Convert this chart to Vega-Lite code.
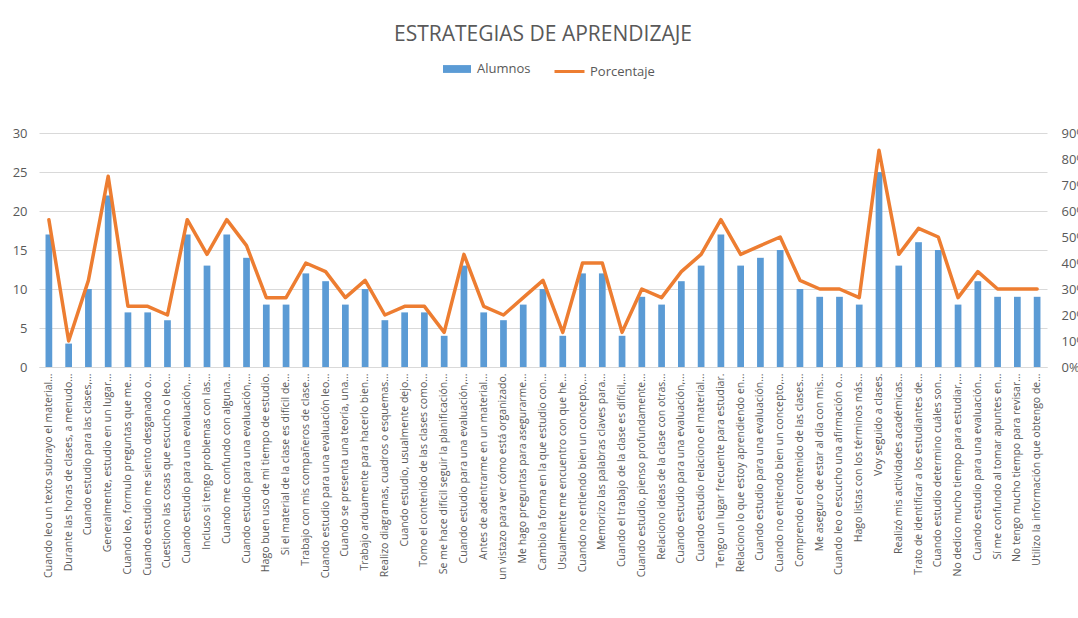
{
  "$schema": "https://vega.github.io/schema/vega-lite/v6.json",
  "autosize": "none",
  "width": 1008,
  "height": 234,
  "padding": {"left": 39, "top": 133, "right": 31, "bottom": 251},
  "background": "white",
  "title": {"text": "ESTRATEGIAS DE APRENDIZAJE", "font": "Open Sans", "fontSize": 21, "fontWeight": "normal", "color": "#595959", "anchor": "middle", "baseline": "alphabetic", "offset": -7},
  "config": {"view": {"stroke": null}},
  "data": {"values": [
    {"id": "01|Cuando leo un texto subrayo el material...", "alumnos": 17, "porcentaje": 0.5667},
    {"id": "02|Durante las horas de clases, a menudo...", "alumnos": 3, "porcentaje": 0.1},
    {"id": "03|Cuando estudio para las clases,...", "alumnos": 10, "porcentaje": 0.3333},
    {"id": "04|Generalmente, estudio en un lugar...", "alumnos": 22, "porcentaje": 0.7333},
    {"id": "05|Cuando leo, formulo preguntas que me...", "alumnos": 7, "porcentaje": 0.2333},
    {"id": "06|Cuando estudio me siento desganado o...", "alumnos": 7, "porcentaje": 0.2333},
    {"id": "07|Cuestiono las cosas que escucho o leo...", "alumnos": 6, "porcentaje": 0.2},
    {"id": "08|Cuando estudio para una evaluación,...", "alumnos": 17, "porcentaje": 0.5667},
    {"id": "09|Incluso si tengo problemas con las...", "alumnos": 13, "porcentaje": 0.4333},
    {"id": "10|Cuando me confundo con alguna...", "alumnos": 17, "porcentaje": 0.5667},
    {"id": "11|Cuando estudio para una evaluación,...", "alumnos": 14, "porcentaje": 0.4667},
    {"id": "12|Hago buen uso de mi tiempo de estudio.", "alumnos": 8, "porcentaje": 0.2667},
    {"id": "13|Si el material de la clase es difícil de...", "alumnos": 8, "porcentaje": 0.2667},
    {"id": "14|Trabajo con mis compañeros de clase...", "alumnos": 12, "porcentaje": 0.4},
    {"id": "15|Cuando estudio para una evaluación leo...", "alumnos": 11, "porcentaje": 0.3667},
    {"id": "16|Cuando se presenta una teoría, una...", "alumnos": 8, "porcentaje": 0.2667},
    {"id": "17|Trabajo arduamente para hacerlo bien...", "alumnos": 10, "porcentaje": 0.3333},
    {"id": "18|Realizo diagramas, cuadros o esquemas...", "alumnos": 6, "porcentaje": 0.2},
    {"id": "19|Cuando estudio, usualmente dejo...", "alumnos": 7, "porcentaje": 0.2333},
    {"id": "20|Tomo el contenido de las clases como...", "alumnos": 7, "porcentaje": 0.2333},
    {"id": "21|Se me hace difícil seguir la planificación...", "alumnos": 4, "porcentaje": 0.1333},
    {"id": "22|Cuando estudio para una evaluación,...", "alumnos": 13, "porcentaje": 0.4333},
    {"id": "23|Antes de adentrarme en un material...", "alumnos": 7, "porcentaje": 0.2333},
    {"id": "24|un vistazo para ver cómo está organizado.", "alumnos": 6, "porcentaje": 0.2},
    {"id": "25|Me hago preguntas para asegurarme...", "alumnos": 8, "porcentaje": 0.2667},
    {"id": "26|Cambio la forma en la que estudio con...", "alumnos": 10, "porcentaje": 0.3333},
    {"id": "27|Usualmente me encuentro con que he...", "alumnos": 4, "porcentaje": 0.1333},
    {"id": "28|Cuando no entiendo bien un concepto,...", "alumnos": 12, "porcentaje": 0.4},
    {"id": "29|Memorizo las palabras claves para...", "alumnos": 12, "porcentaje": 0.4},
    {"id": "30|Cuando el trabajo de la clase es difícil,...", "alumnos": 4, "porcentaje": 0.1333},
    {"id": "31|Cuando estudio, pienso profundamente...", "alumnos": 9, "porcentaje": 0.3},
    {"id": "32|Relaciono ideas de la clase con otras...", "alumnos": 8, "porcentaje": 0.2667},
    {"id": "33|Cuando estudio para una evaluación,...", "alumnos": 11, "porcentaje": 0.3667},
    {"id": "34|Cuando estudio relaciono el material...", "alumnos": 13, "porcentaje": 0.4333},
    {"id": "35|Tengo un lugar frecuente para estudiar.", "alumnos": 17, "porcentaje": 0.5667},
    {"id": "36|Relaciono lo que estoy aprendiendo en...", "alumnos": 13, "porcentaje": 0.4333},
    {"id": "37|Cuando estudio para una evaluación...", "alumnos": 14, "porcentaje": 0.4667},
    {"id": "38|Cuando no entiendo bien un concepto,...", "alumnos": 15, "porcentaje": 0.5},
    {"id": "39|Comprendo el contenido de las clases...", "alumnos": 10, "porcentaje": 0.3333},
    {"id": "40|Me aseguro de estar al día con mis...", "alumnos": 9, "porcentaje": 0.3},
    {"id": "41|Cuando leo o escucho una afirmación o...", "alumnos": 9, "porcentaje": 0.3},
    {"id": "42|Hago listas con los términos más...", "alumnos": 8, "porcentaje": 0.2667},
    {"id": "43|Voy seguido a clases.", "alumnos": 25, "porcentaje": 0.8333},
    {"id": "44|Realizó mis actividades académicas...", "alumnos": 13, "porcentaje": 0.4333},
    {"id": "45|Trato de identificar a los estudiantes de...", "alumnos": 16, "porcentaje": 0.5333},
    {"id": "46|Cuando estudio determino cuáles son...", "alumnos": 15, "porcentaje": 0.5},
    {"id": "47|No dedico mucho tiempo para estudiar,...", "alumnos": 8, "porcentaje": 0.2667},
    {"id": "48|Cuando estudio para una evaluación...", "alumnos": 11, "porcentaje": 0.3667},
    {"id": "49|Sí me confundo al tomar apuntes en...", "alumnos": 9, "porcentaje": 0.3},
    {"id": "50|No tengo mucho tiempo para revisar...", "alumnos": 9, "porcentaje": 0.3},
    {"id": "51|Utilizo la información que obtengo de...", "alumnos": 9, "porcentaje": 0.3}
  ]},
  "encoding": {
    "x": {
      "field": "id", "type": "nominal", "sort": null, "title": null,
      "scale": {"paddingInner": 0.66, "paddingOuter": 0.33},
      "axis": {
        "labelExpr": "substring(datum.value, 3)",
        "labelAngle": -90, "labelFont": "Open Sans", "labelFontSize": 10.5, "labelColor": "#595959",
        "labelLimit": 300, "labelPadding": 6, "labelOverlap": false,
        "ticks": false, "domain": true, "domainColor": "#D9D9D9", "grid": false
      }
    }
  },
  "layer": [
    {
      "mark": {"type": "bar"},
      "encoding": {
        "y": {
          "field": "alumnos", "type": "quantitative", "title": null,
          "scale": {"domain": [0, 30], "nice": false},
          "axis": {"orient": "left", "values": [0, 5, 10, 15, 20, 25, 30], "labelFont": "Open Sans", "labelFontSize": 13, "labelColor": "#595959", "labelPadding": 12, "ticks": false, "domain": false, "grid": true, "gridColor": "#D9D9D9", "gridWidth": 1}
        },
        "fill": {
          "datum": "Alumnos", "type": "nominal",
          "scale": {"domain": ["Alumnos"], "range": ["#5B9BD5"]},
          "legend": {"title": null, "orient": "none", "legendX": 404, "legendY": -78, "symbolType": "M-1,-0.28H1V0.28H-1Z", "symbolSize": 784, "symbolStrokeWidth": 0, "labelFont": "Open Sans", "labelFontSize": 13, "labelColor": "#595959", "labelOffset": 6}
        }
      }
    },
    {
      "mark": {"type": "line", "strokeWidth": 3.5, "strokeJoin": "round", "strokeCap": "round"},
      "encoding": {
        "y": {
          "field": "porcentaje", "type": "quantitative", "title": null,
          "scale": {"domain": [0, 0.9], "nice": false},
          "axis": {"orient": "right", "values": [0, 0.1, 0.2, 0.3, 0.4, 0.5, 0.6, 0.7, 0.8, 0.9], "format": ".0%", "labelFont": "Open Sans", "labelFontSize": 13, "labelColor": "#595959", "labelPadding": 14, "ticks": false, "domain": false, "grid": false}
        },
        "stroke": {
          "datum": "Porcentaje", "type": "nominal",
          "scale": {"domain": ["Porcentaje"], "range": ["#ED7D31"]},
          "legend": {"title": null, "orient": "none", "legendX": 514, "legendY": -78, "symbolType": "stroke", "symbolSize": 900, "symbolStrokeWidth": 3, "labelFont": "Open Sans", "labelFontSize": 13, "labelColor": "#595959", "labelOffset": 4}
        }
      }
    }
  ],
  "resolve": {"scale": {"y": "independent"}}
}
